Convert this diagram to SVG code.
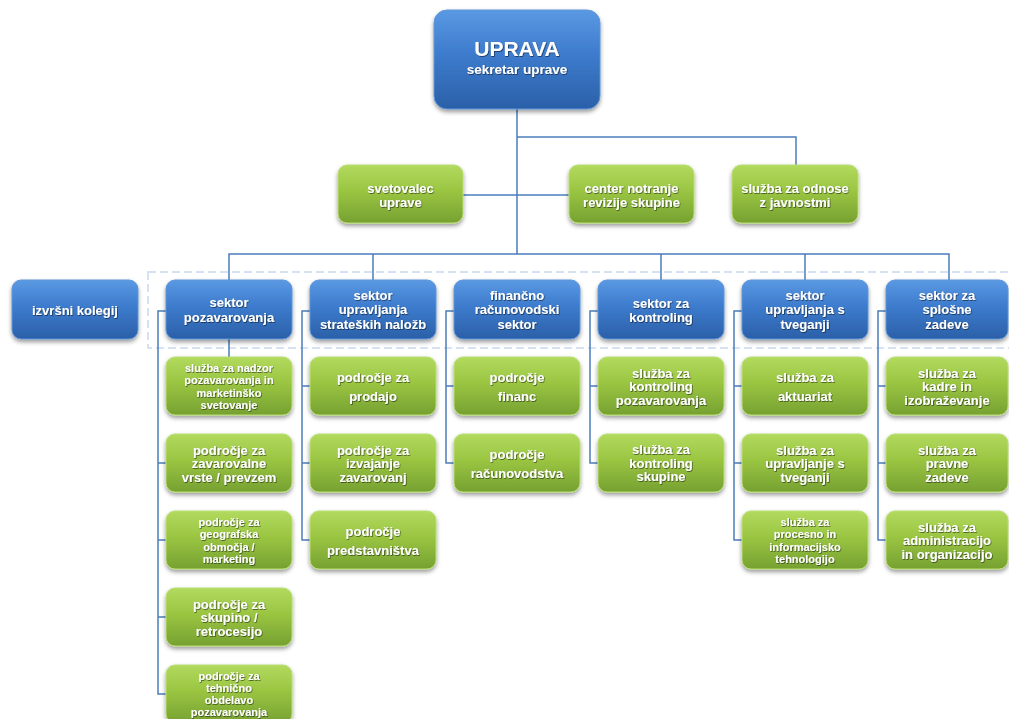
<svg xmlns="http://www.w3.org/2000/svg" width="1009" height="719" viewBox="0 0 1009 719">
<style>
.b{fill:url(#gb);stroke:#5f95d8;stroke-width:1}
.g{fill:url(#gg);stroke:#b9dd72;stroke-width:1}
.bx{filter:url(#sh)}
text{font-family:"Liberation Sans",Arial,sans-serif;font-weight:bold;font-size:13px;fill:#fff;text-anchor:middle;filter:url(#ts)}
.s{font-size:11px}
.c{fill:none;stroke:#4a7ebb;stroke-width:1.5}
.d{fill:none;stroke:#d6e1f1;stroke-width:2;stroke-dasharray:8 4}
</style>
<defs>
<linearGradient id="gb" x1="0" y1="0" x2="0" y2="1">
<stop offset="0" stop-color="#5a99e2"/>
<stop offset="0.45" stop-color="#3d7bcd"/>
<stop offset="1" stop-color="#2b60a8"/>
</linearGradient>
<linearGradient id="gg" x1="0" y1="0" x2="0" y2="1">
<stop offset="0" stop-color="#b2da5e"/>
<stop offset="0.45" stop-color="#9ac542"/>
<stop offset="1" stop-color="#76a131"/>
</linearGradient>
<filter id="sh" x="-10%" y="-10%" width="125%" height="140%">
<feDropShadow dx="0" dy="2.5" stdDeviation="2" flood-color="#000" flood-opacity="0.4"/>
</filter>
<filter id="ts" x="-10%" y="-20%" width="120%" height="150%">
<feDropShadow dx="0.7" dy="0.8" stdDeviation="0.5" flood-color="#000" flood-opacity="0.6"/>
</filter>
</defs>
<rect width="1009" height="719" fill="#fff"/>
<rect class="d" x="148" y="272" width="870" height="76"/>
<g id="connectors">
<path class="c" d="M517 109V254M463 195H569M517 137H796V165M229 280V254H949V280M373 254V280M661 254V280M805 254V280"/>
<path class="c" d="M229 339V357M166 311H158V694H166M158 463H166M158 540H166M158 617H166"/>
<path class="c" d="M310 311H302V540H310M302 386H310M302 463H310"/>
<path class="c" d="M454 311H446V463H454M446 386H454"/>
<path class="c" d="M598 311H590V463H598M590 386H598"/>
<path class="c" d="M742 311H734V540H742M734 386H742M734 463H742"/>
<path class="c" d="M886 311H878V540H886M878 386H886M878 463H886"/>
</g>
<g id="uprava" class="bx"><rect class="b" x="434" y="10" width="166" height="99" rx="13"/>
<text style="font-size:21px" x="517" y="56">UPRAVA</text>
<text style="font-size:13.5px" x="517" y="74">sekretar uprave</text></g>
<g id="svetovalec" class="bx"><rect class="g" x="338" y="165" width="125" height="58" rx="9"/>
<text x="400.5" y="192.5">svetovalec</text><text x="400.5" y="206.5">uprave</text></g>
<g id="revizija" class="bx"><rect class="g" x="569" y="165" width="125" height="58" rx="9"/>
<text x="631.5" y="192.5">center  notranje</text><text x="631.5" y="206.5">revizije skupine</text></g>
<g id="javnost" class="bx"><rect class="g" x="732" y="165" width="126" height="58" rx="9"/>
<text x="795" y="192.5">služba za odnose</text><text x="795" y="206.5">z javnostmi</text></g>
<g id="kolegij" class="bx"><rect class="b" x="12" y="280" width="126" height="59" rx="9"/>
<text x="75" y="314.5">izvršni kolegij</text></g>
<g id="s1" class="bx"><rect class="b" x="166" y="280" width="126" height="59" rx="9"/>
<text x="229" y="306.5">sektor</text><text x="229" y="321.5">pozavarovanja</text></g>
<g id="s2" class="bx"><rect class="b" x="310" y="280" width="126" height="59" rx="9"/>
<text x="373" y="299.5">sektor</text><text x="373" y="314">upravljanja</text><text x="373" y="328.5">strateških naložb</text></g>
<g id="s3" class="bx"><rect class="b" x="454" y="280" width="126" height="59" rx="9"/>
<text x="517" y="299.5">finančno</text><text x="517" y="314">računovodski</text><text x="517" y="328.5">sektor</text></g>
<g id="s4" class="bx"><rect class="b" x="598" y="280" width="126" height="59" rx="9"/>
<text x="661" y="307.5">sektor za</text><text x="661" y="321.5">kontroling</text></g>
<g id="s5" class="bx"><rect class="b" x="742" y="280" width="126" height="59" rx="9"/>
<text x="805" y="299.5">sektor</text><text x="805" y="314">upravljanja  s</text><text x="805" y="328.5">tveganji</text></g>
<g id="s6" class="bx"><rect class="b" x="886" y="280" width="122" height="59" rx="9"/>
<text x="947" y="299.5">sektor za</text><text x="947" y="314">splošne</text><text x="947" y="328.5">zadeve</text></g>
<g id="c1a" class="bx"><rect class="g" x="166" y="357" width="126" height="58" rx="9"/>
<text class="s" x="229" y="371.5">služba za nadzor</text><text class="s" x="229" y="384">pozavarovanja  in</text><text class="s" x="229" y="396.5">marketinško</text><text class="s" x="229" y="409">svetovanje</text></g>
<g id="c1b" class="bx"><rect class="g" x="166" y="434" width="126" height="58" rx="9"/>
<text x="229" y="454.5">področje za</text><text x="229" y="468">zavarovalne</text><text x="229" y="481.5">vrste / prevzem</text></g>
<g id="c1c" class="bx"><rect class="g" x="166" y="511" width="126" height="58" rx="9"/>
<text class="s" x="229" y="525.5">področje za</text><text class="s" x="229" y="538">geografska</text><text class="s" x="229" y="550.5">območja /</text><text class="s" x="229" y="563">marketing</text></g>
<g id="c1d" class="bx"><rect class="g" x="166" y="588" width="126" height="58" rx="9"/>
<text x="229" y="608.5">področje za</text><text x="229" y="622">skupino /</text><text x="229" y="635.5">retrocesijo</text></g>
<g id="c1e" class="bx"><rect class="g" x="166" y="665" width="126" height="58" rx="9"/>
<text class="s" x="229" y="680">področje za</text><text class="s" x="229" y="692">tehnično</text><text class="s" x="229" y="704">obdelavo</text><text class="s" x="229" y="716">pozavarovanja</text></g>
<g id="c2a" class="bx"><rect class="g" x="310" y="357" width="126" height="58" rx="9"/>
<text x="373" y="382">področje za</text><text x="373" y="401">prodajo</text></g>
<g id="c2b" class="bx"><rect class="g" x="310" y="434" width="126" height="58" rx="9"/>
<text x="373" y="454.5">področje za</text><text x="373" y="468">izvajanje</text><text x="373" y="481.5">zavarovanj</text></g>
<g id="c2c" class="bx"><rect class="g" x="310" y="511" width="126" height="58" rx="9"/>
<text x="373" y="536">področje</text><text x="373" y="555">predstavništva</text></g>
<g id="c3a" class="bx"><rect class="g" x="454" y="357" width="126" height="58" rx="9"/>
<text x="517" y="382">področje</text><text x="517" y="401">financ</text></g>
<g id="c3b" class="bx"><rect class="g" x="454" y="434" width="126" height="58" rx="9"/>
<text x="517" y="459">področje</text><text x="517" y="478">računovodstva</text></g>
<g id="c4a" class="bx"><rect class="g" x="598" y="357" width="126" height="58" rx="9"/>
<text x="661" y="377.5">služba za</text><text x="661" y="391">kontroling</text><text x="661" y="404.5">pozavarovanja</text></g>
<g id="c4b" class="bx"><rect class="g" x="598" y="434" width="126" height="58" rx="9"/>
<text x="661" y="454">služba za</text><text x="661" y="467.5">kontroling</text><text x="661" y="481">skupine</text></g>
<g id="c5a" class="bx"><rect class="g" x="742" y="357" width="126" height="58" rx="9"/>
<text x="805" y="382">služba za</text><text x="805" y="401">aktuariat</text></g>
<g id="c5b" class="bx"><rect class="g" x="742" y="434" width="126" height="58" rx="9"/>
<text x="805" y="454.5">služba za</text><text x="805" y="468">upravljanje  s</text><text x="805" y="481.5">tveganji</text></g>
<g id="c5c" class="bx"><rect class="g" x="742" y="511" width="126" height="58" rx="9"/>
<text class="s" x="805" y="525.5">služba za</text><text class="s" x="805" y="538">procesno in</text><text class="s" x="805" y="550.5">informacijsko</text><text class="s" x="805" y="563">tehnologijo</text></g>
<g id="c6a" class="bx"><rect class="g" x="886" y="357" width="122" height="58" rx="9"/>
<text x="947" y="377.5">služba za</text><text x="947" y="391">kadre in</text><text x="947" y="404.5">izobraževanje</text></g>
<g id="c6b" class="bx"><rect class="g" x="886" y="434" width="122" height="58" rx="9"/>
<text x="947" y="454.5">služba za</text><text x="947" y="468">pravne</text><text x="947" y="481.5">zadeve</text></g>
<g id="c6c" class="bx"><rect class="g" x="886" y="511" width="122" height="58" rx="9"/>
<text x="947" y="531.5">služba za</text><text x="947" y="545">administracijo</text><text x="947" y="558.5">in organizacijo</text></g>
</svg>
